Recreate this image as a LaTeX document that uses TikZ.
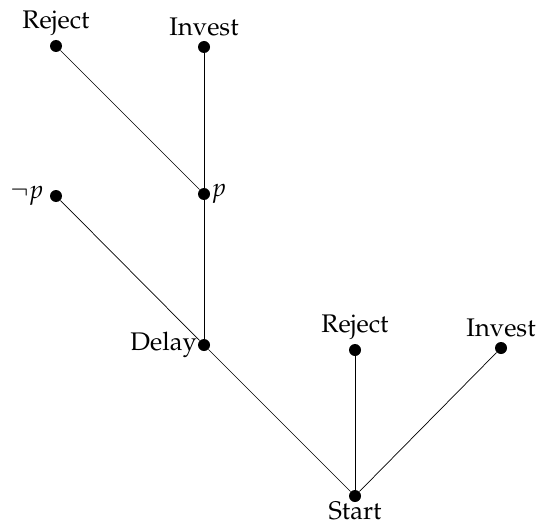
\documentclass[tikz,border=0pt]{standalone}
\usepackage[T1]{fontenc}
\usepackage{mathpazo}
\tikzstyle{dot}=[circle, fill, inner sep=0pt, minimum size=0.24cm]
\tikzstyle{edge}=[thin]

\begin{document}
\begin{tikzpicture}[font=\fontsize{14.5}{17}\selectfont]
\useasboundingbox (0,0) rectangle (10.8,10.5);
\draw (1.12,9.58) node[dot, label={[label distance=-1pt]above:Reject}] (R1) {};
\draw (4.08,9.56) node[dot, label={[label distance=-1pt]above:Invest}] (I1) {};
\draw (1.12,6.58) node[dot, label=left:$\neg p$] (NP) {};
\draw (4.08,6.62) node[dot, label={[label distance=-3pt]right:$p$}] (P) {};
\draw (4.08,3.6) node[dot, label={[label distance=-3pt]left:Delay}] (D) {};
\draw (7.1,3.5) node[dot, label={[label distance=-1pt]above:Reject}] (R2) {};
\draw (10.02,3.54) node[dot, label={[label distance=-1pt]above:Invest}] (I2) {};
\draw (7.1,0.58) node[dot, label={[label distance=-4pt]below:Start}] (S) {};

\draw[edge] (R1) -- (P);
\draw[edge] (I1) -- (P);
\draw[edge] (P) -- (D);
\draw[edge] (NP) -- (D);
\draw[edge] (D) -- (S);
\draw[edge] (R2) -- (S);
\draw[edge] (I2) -- (S);
\end{tikzpicture}
\end{document}
